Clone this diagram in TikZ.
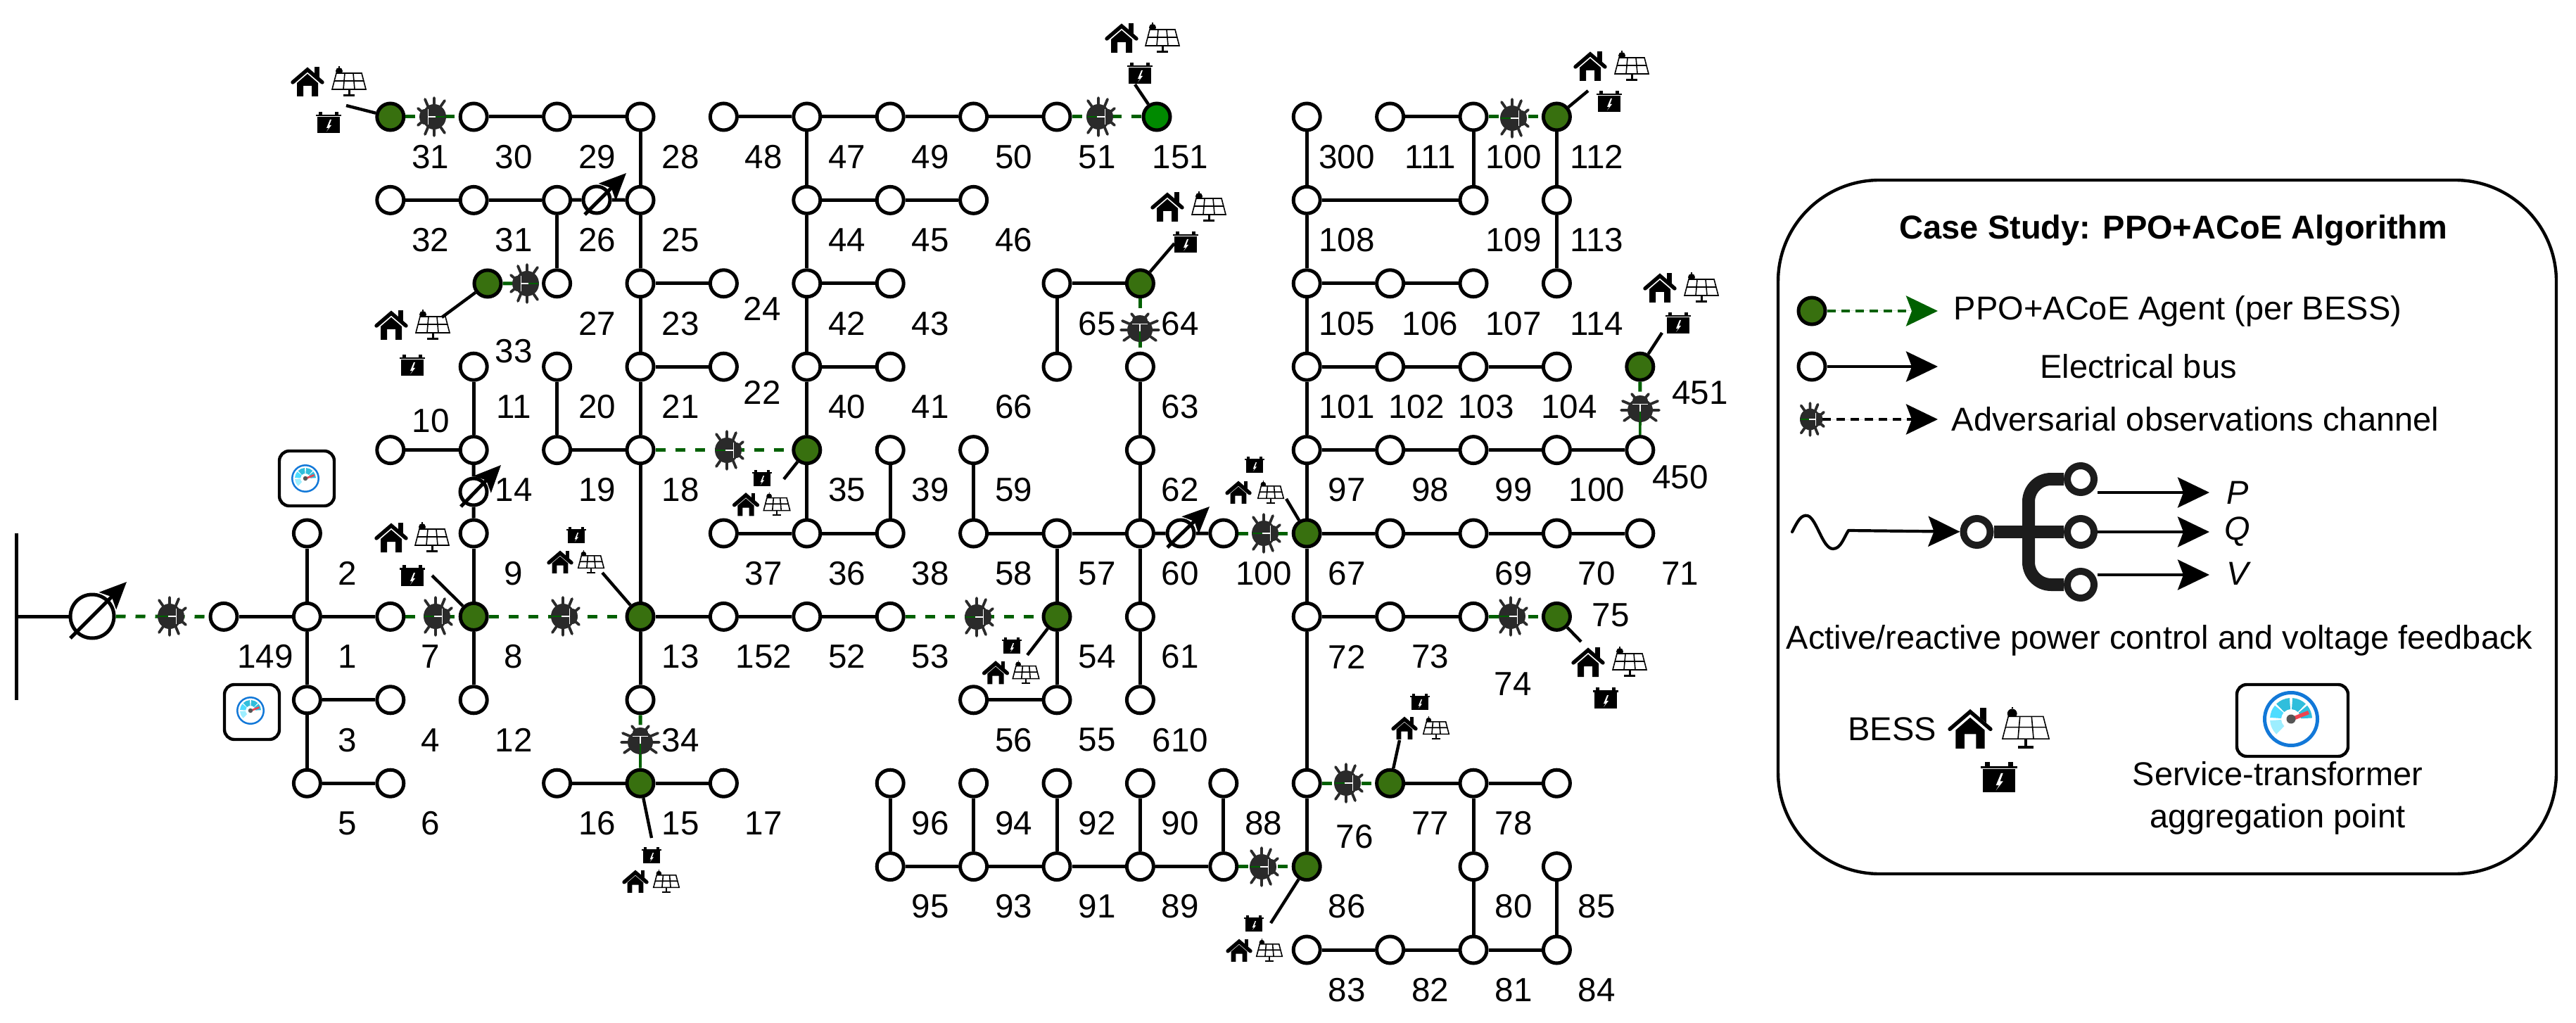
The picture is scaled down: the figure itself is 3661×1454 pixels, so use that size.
\documentclass[tikz,border=0pt]{standalone}
\usepackage{fontspec}
\setmainfont{Liberation Sans}
\usetikzlibrary{arrows.meta}
\definecolor{agentgreen}{HTML}{38700F}
\definecolor{brightgreen}{HTML}{008A00}
\definecolor{dashgreen}{HTML}{006000}
\definecolor{bugdark}{HTML}{2A2A2A}
\definecolor{ringdark}{HTML}{1C1C1C}
\tikzset{
  x=0.25pt,y=-0.25pt,
  every node/.append style={inner sep=0pt},
  bus/.style={circle,draw=black,fill=white,line width=1.25pt,minimum size=9.5pt},
  agent/.style={bus,fill=agentgreen},
  brightagent/.style={bus,fill=brightgreen},
  edge/.style={draw=black,line width=1.25pt},
  tie/.style={draw=black,line width=1.1pt},
  gdash/.style={draw=dashgreen,line width=1.25pt,dash pattern=on 3.5pt off 3.5pt},
  gsolid/.style={draw=dashgreen,line width=0.9pt},
  lab/.style={font=\fontsize{11.9}{13}\selectfont,text=black},
  legtxt/.style={font=\fontsize{11.75}{13}\selectfont,text=black,align=center},
  pst/.style={circle,draw=black,fill=white,line width=1.25pt,minimum size=#1},
  pstarrow/.style={draw=black,line width=1.25pt,-{Stealth[length=9.5pt,width=8.5pt,inset=2pt]}},
  legarrow/.style={line width=1.05pt,-{Stealth[length=11.25pt,width=10.75pt,inset=2pt]}},
  meterbox/.style={rectangle,draw=black,fill=white,line width=1.1pt,rounded corners=3.5pt},
  ring/.style={circle,draw=ringdark,fill=white,line width=2.5pt,minimum size=9.5pt},
  house/.pic={
    \fill[black] (10,-21) rectangle (17,-6);
    \fill[white] (-22,-1) -- (0,-19) -- (22,-1) -- (17,3) -- (-17,3) -- cycle;
    \fill[black] (-15,2) -- (0,-11) -- (15,2) -- (15,21) -- (6,21) -- (6,6) -- (-6,6) -- (-6,21) -- (-15,21) -- cycle;
    \draw[black,line width=1.35pt,line cap=round] (-21,1) -- (0,-17) -- (21,1);
  },
  panel/.pic={
    \fill[black] (-14,-15) circle[radius=5];
    \fill[black] (-14.6,-22) rectangle (-13.4,-20);
    \filldraw[fill=white,draw=black,line width=0.4pt] (-18,-12) -- (18,-12) -- (24,11) -- (-24,11) -- cycle;
    \draw[black,line width=0.4pt] (-6,-12) -- (-8,11) (6,-12) -- (8,11) (-21,-1) -- (21,-1);
    \fill[black] (-1.5,11) rectangle (1.5,19);
    \fill[black] (-8,18) rectangle (8,21);
  },
  battery/.pic={
    \fill[black] (-16,-9) rectangle (16,14);
    \fill[black] (-18,-12) rectangle (18,-9.5);
    \fill[black] (-14,-16) rectangle (-9,-12);
    \fill[black] (9,-16) rectangle (14,-12);
    \fill[white] (2,-5) -- (-3,7) -- (0,7) -- (-3,12) -- (4,3) -- (1,3) -- (4,-5) -- cycle;
  },
  bug/.pic={
    \draw[bugdark,line width=0.95pt,line cap=round]
      (-13,-5) -- (-25,-10) (-15,3) -- (-27,3) (-13,11) -- (-23,18)
      (13,-5) -- (25,-10) (15,3) -- (27,3) (13,11) -- (23,18)
      (-6,-13) -- (-12,-20) (6,-13) -- (12,-20);
    \fill[bugdark] (0,3) ellipse[x radius=18,y radius=17];
    \fill[bugdark] (0,-11) ellipse[x radius=11,y radius=7];
    \draw[white,line width=0.15pt] (-11,-6) -- (11,-6);
    \draw[white,line width=0.3pt] (0,-6) -- (0,5);
    \draw[dashgreen,line width=0.3pt] (0,5) -- (0,19);
  },
  gauge/.pic={
    \fill[white] (0,0) circle[radius=40];
    \fill[gaugeblue,even odd rule] (0,0) circle[radius=40] (0,0) circle[radius=35];
    \foreach \aa/\ab/\cl in {3/40/gaugeteal,46/86/gaugeteal,94/134/gaugeteal,140/176/gaugecyan,184/226/gaugepale}{
      \fill[\cl] (-\aa:30) arc[start angle=-\aa,end angle=-\ab,radius=30] -- (-\ab:14) arc[start angle=-\ab,end angle=-\aa,radius=14] -- cycle;
    }
    \fill[white] (0,0) circle[radius=12];
    \fill[gaugered] (0,-2.5) -- (24,-12) -- (26,-7) -- (1,3) -- cycle;
    \fill[gaugehub] (0,0) circle[radius=6.5];
  },
}
\definecolor{gaugeblue}{HTML}{1278D8}
\definecolor{gaugeteal}{HTML}{30BEDC}
\definecolor{gaugecyan}{HTML}{4EDCFF}
\definecolor{gaugepale}{HTML}{9DEEFF}
\definecolor{gaugered}{HTML}{EE4450}
\definecolor{gaugehub}{HTML}{555555}
\begin{document}
\begin{tikzpicture}
\useasboundingbox (0,0) rectangle (3661,1454);
\fill[white] (0,0) rectangle (3661,1454);

% --- buses on the grid ---
\foreach \c/\r in {
 3/0,4/0,5/0,6/0,7/0,8/0,9/0,10/0,13/0,14/0,15/0,
 2/1,3/1,4/1,5/1,7/1,8/1,9/1,13/1,15/1,16/1,
 4/2,5/2,6/2,7/2,8/2,10/2,13/2,14/2,15/2,16/2,
 3/3,4/3,5/3,6/3,7/3,8/3,10/3,11/3,13/3,14/3,15/3,16/3,
 2/4,3/4,4/4,5/4,8/4,9/4,11/4,13/4,14/4,15/4,16/4,17/4,
 1/5,3/5,6/5,7/5,8/5,9/5,10/5,11/5,12/5,14/5,15/5,16/5,17/5,
 0/6,1/6,2/6,6/6,7/6,8/6,11/6,13/6,14/6,15/6,
 1/7,2/7,3/7,5/7,9/7,10/7,11/7,
 1/8,2/8,4/8,6/8,8/8,9/8,10/8,11/8,12/8,13/8,15/8,16/8,
 8/9,9/9,10/9,11/9,12/9,15/9,16/9,
 13/10,14/10,15/10,16/10}
  \node[bus] (b\c r\r) at ({318+118.4*\c},{166+118.4*\r}) {};
% --- agents ---
\foreach \c/\r in {2/0,16/0,11/2,17/3,7/4,13/5,3/6,5/6,10/6,16/6,5/8,14/8,13/9}
  \node[agent] (b\c r\r) at ({318+118.4*\c},{166+118.4*\r}) {};
\node[agent] (agA) at (693,403) {};
\node[brightagent] (ag151) at (1644,166) {};

% --- phase-shifting transformers ---
\node[pst=15.5pt] (pstA) at (131,876) {};
\node[pst=9.5pt] (pstB) at (848,284) {};
\node[pst=9.5pt] (pstC) at (673,699) {};
\node[pst=9.5pt] (pstD) at (1678,758) {};

% --- solid edges, horizontal: first column/second column/row ---
\foreach \a/\b/\r in {
 3/4/0,4/5/0,6/7/0,7/8/0,8/9/0,9/10/0,14/15/0,
 2/3/1,3/4/1,7/8/1,8/9/1,13/15/1,
 5/6/2,7/8/2,10/11/2,13/14/2,14/15/2,
 5/6/3,7/8/3,13/14/3,14/15/3,15/16/3,
 2/3/4,4/5/4,13/14/4,14/15/4,15/16/4,16/17/4,
 6/7/5,7/8/5,9/10/5,10/11/5,13/14/5,14/15/5,15/16/5,16/17/5,
 0/1/6,1/2/6,5/6/6,6/7/6,7/8/6,13/14/6,14/15/6,
 1/2/7,9/10/7,
 1/2/8,4/5/8,5/6/8,14/15/8,15/16/8,
 8/9/9,9/10/9,10/11/9,11/12/9,
 13/14/10,14/15/10,15/16/10}
  \draw[edge] (b\a r\r) -- (b\b r\r);
% --- solid edges, vertical: column/first row/second row ---
\foreach \c/\a/\b in {
 1/5/6,1/6/7,1/7/8,
 3/3/4,3/5/6,3/6/7,
 4/1/2,4/3/4,
 5/0/1,5/1/2,5/2/3,5/3/4,5/4/6,5/6/7,
 7/0/1,7/1/2,7/2/3,7/3/4,7/4/5,
 8/4/5,9/4/5,
 10/2/3,10/5/6,10/6/7,
 11/3/4,11/4/5,11/5/6,11/6/7,
 13/0/1,13/1/2,13/2/3,13/3/4,13/4/5,13/5/6,13/6/8,13/8/9,
 15/0/1,15/8/9,15/9/10,
 16/0/1,16/1/2,16/9/10,
 8/8/9,9/8/9,10/8/9,11/8/9,12/8/9}
  \draw[edge] (b\c r\a) -- (b\c r\b);

% --- transformer links and source bar ---
\coordinate (barT) at (23,758);
\coordinate (barM) at (23,876);
\coordinate (barB) at (23,995);
\draw[edge] (barT) -- (barB);
\draw[edge] (barM) -- (pstA);
\draw[edge] (b4r1) -- (pstB);
\draw[edge] (pstB) -- (b5r1);
\draw[edge] (b3r4) -- (pstC);
\draw[edge] (pstC) -- (b3r5);
\draw[edge] (b11r5) -- (pstD);
\draw[edge] (pstD) -- (b12r5);
\coordinate (pstAs) at (100,907); \coordinate (pstAe) at (180,827);
\coordinate (pstBs) at (831,305); \coordinate (pstBe) at (890,246);
\coordinate (pstCs) at (655,720); \coordinate (pstCe) at (712,661);
\coordinate (pstDs) at (1659,778); \coordinate (pstDe) at (1719,720);
\draw[pstarrow] (pstAs) -- (pstAe);
\draw[pstarrow] (pstBs) -- (pstBe);
\draw[pstarrow] (pstCs) -- (pstCe);
\draw[pstarrow] (pstDs) -- (pstDe);

% --- adversarial channels ---
\draw[gdash] (pstA) -- (b0r6);
\draw[gdash] (b2r6) -- (b3r6);
\draw[gdash] (b3r6) -- (b5r6);
\draw[gdash] (b8r6) -- (b10r6);
\draw[gdash] (b5r4) -- (b7r4);
\draw[gdash] (b2r0) -- (b3r0);
\draw[gdash] (agA) -- (b4r2);
\draw[gdash] (b10r0) -- (ag151);
\draw[gdash] (b15r0) -- (b16r0);
\draw[gdash] (b12r5) -- (b13r5);
\draw[gdash] (b15r6) -- (b16r6);
\draw[gdash] (b13r8) -- (b14r8);
\draw[gdash] (b12r9) -- (b13r9);
\draw[gdash] (b11r2) -- (b11r3);
\coordinate (bugP) at (910,1052);
\coordinate (bugQ) at (2331,580);
\draw[gdash] (b5r7) -- (bugP);
\draw[gsolid] (bugP) -- (b5r8);
\draw[gdash] (b17r3) -- (bugQ);
\draw[gsolid] (bugQ) -- (b17r4);
\foreach \x/\y/\a in {
 614/166/90,746/403/90,1036/640/-90,244/876/-90,622/876/-90,803/876/-90,1391/877/-90,
 1564/166/-90,2152/168/-90,1799/758/-90,2150/876/-90,1916/1113/-90,1796/1232/-90,
 1620/466/0,910/1052/0,2331/580/0}
  \pic[rotate=\a] at (\x,\y) {bug};

% --- BESS groups: house x/y, panel x/y, battery x/y, icon scale ---
\foreach \hx/\hy/\px/\py/\bx/\by/\s in {
 437/116/496/116/467/175/1,
 556/462/615/462/586/520/1,
 556/764/614/764/586/819/1,
 796/799/840/799/819/761/.76,
 903/1253/947/1253/926/1216/.76,
 1060/717/1104/717/1083/680/.78,
 1415/956/1458/956/1438/918/.78,
 1594/54/1652/54/1620/105/1,
 1659/294/1718/294/1685/345/1,
 2260/94/2319/94/2287/145/1,
 2359/409/2418/409/2385/460/1,
 1760/700/1806/700/1783/661/.76,
 2257/941/2316/941/2282/993/1,
 1996/1035/2041/1035/2018/998/.76,
 1761/1351/1804/1351/1782/1313/.76}{
  \pic[scale=\s] at (\hx,\hy) {house};
  \pic[scale=\s] at (\px,\py) {panel};
  \pic[scale=\s] at (\bx,\by) {battery};
}
% --- links from agents to their BESS groups ---
\coordinate (gA) at (492,150);   \draw[tie] (b2r0) -- (gA);
\coordinate (gB) at (628,451);   \draw[tie] (agA) -- (gB);
\coordinate (gC) at (614,818);   \draw[tie] (b3r6) -- (gC);
\coordinate (gD) at (856,814);   \draw[tie] (b5r6) -- (gD);
\coordinate (gE) at (926,1191);  \draw[tie] (b5r8) -- (gE);
\coordinate (gF) at (1114,681);  \draw[tie] (b7r4) -- (gF);
\coordinate (gG) at (1460,931);  \draw[tie] (b10r6) -- (gG);
\coordinate (gH) at (1613,120);  \draw[tie] (ag151) -- (gH);
\coordinate (gI) at (1669,346);  \draw[tie] (b11r2) -- (gI);
\coordinate (gJ) at (2257,129);  \draw[tie] (b16r0) -- (gJ);
\coordinate (gK) at (2362,473);  \draw[tie] (b17r3) -- (gK);
\coordinate (gL) at (1828,709);  \draw[tie] (b13r5) -- (gL);
\coordinate (gM) at (2247,912);  \draw[tie] (b16r6) -- (gM);
\coordinate (gN) at (1989,1052); \draw[tie] (b14r8) -- (gN);
\coordinate (gO) at (1806,1312); \draw[tie] (b13r9) -- (gO);

% --- service-transformer meters ---
\node[meterbox,minimum width=19.5pt,minimum height=19.5pt] (meterA) at (436,680) {};
\node[meterbox,minimum width=19.5pt,minimum height=19.5pt] (meterB) at (358,1012) {};
\pic[scale=.5] at (434,680) {gauge};
\pic[scale=.5] at (356,1010) {gauge};

% --- bus numbers on the grid ---
\foreach \c/\r/\t in {
 2/0/31,3/0/30,4/0/29,5/0/28,6/0/48,7/0/47,8/0/49,9/0/50,10/0/51,11/0/151,13/0/300,14/0/111,15/0/100,16/0/112,
 2/1/32,3/1/31,4/1/26,5/1/25,7/1/44,8/1/45,9/1/46,13/1/108,15/1/109,16/1/113,
 4/2/27,5/2/23,7/2/42,8/2/43,10/2/65,11/2/64,13/2/105,14/2/106,15/2/107,16/2/114,
 3/3/11,4/3/20,5/3/21,7/3/40,8/3/41,9/3/66,11/3/63,13/3/101,
 3/4/14,4/4/19,5/4/18,7/4/35,8/4/39,9/4/59,11/4/62,13/4/97,14/4/98,15/4/99,16/4/100,
 1/5/2,3/5/9,6/5/37,7/5/36,8/5/38,9/5/58,10/5/57,11/5/60,12/5/100,13/5/67,15/5/69,16/5/70,17/5/71,
 1/6/1,2/6/7,3/6/8,5/6/13,6/6/152,7/6/52,8/6/53,10/6/54,11/6/61,13/6/72,14/6/73,
 1/7/3,2/7/4,3/7/12,5/7/34,9/7/56,10/7/55,11/7/610,
 1/8/5,2/8/6,4/8/16,5/8/15,6/8/17,8/8/96,9/8/94,10/8/92,11/8/90,12/8/88,14/8/77,15/8/78,
 8/9/95,9/9/93,10/9/91,11/9/89,13/9/86,15/9/80,16/9/85,
 13/10/83,14/10/82,15/10/81,16/10/84}
  \node[lab] (l\c r\r) at ({318+118.4*\c+57},{166+118.4*\r+57}) {\t};
% --- bus numbers off the grid ---
\foreach \x/\y/\t in {
 730/499/33,1083/439/24,1083/558/22,612/598/10,2416/558/451,2388/678/450,
 2289/874/75,2150/972/74,1925/1189/76,2013/578/102,2112/578/103,2230/578/104,377/933/149}
  \node[lab] (lx\t) at (\x,\y) {\t};

% --- legend ---
\node[rectangle,draw=black,line width=1.1pt,rounded corners=36pt,minimum width=276.5pt,minimum height=246.5pt] (legend) at (3080,749) {};
\node[legtxt,font=\fontsize{11.75}{13}\selectfont\bfseries] (legtitle) at (3089,327) {Case Study: PPO+ACoE Algorithm};
\node[agent] (legA) at (2575,442) {};
\coordinate (legAe) at (2754,442);
\draw[legarrow,draw=dashgreen,fill=dashgreen,dash pattern=on 3pt off 2pt] (legA) -- (legAe);
\node[legtxt] (legAt) at (3095,442) {PPO+ACoE Agent (per BESS)};
\node[bus] (legB) at (2575,521) {};
\coordinate (legBe) at (2754,521);
\draw[legarrow,draw=black,fill=black] (legB) -- (legBe);
\node[legtxt] (legBt) at (3039,521) {Electrical bus};
\coordinate (legC) at (2590,596);
\coordinate (legCe) at (2754,596);
\draw[legarrow,draw=black,fill=black,dash pattern=on 3pt off 2pt] (legC) -- (legCe);
\pic[rotate=-90,scale=.85] at (2575,596) {bug};
\node[legtxt] (legCt) at (3120,596) {Adversarial observations channel};
% wave into the branching block
\coordinate (waveS) at (2547,756);
\coordinate (waveE) at (2627,754);
\draw[line width=1.05pt,line cap=round] (waveS) .. controls (2555,740) and (2560,731) .. (2569,733) .. controls (2582,737) and (2590,780) .. (2605,780) .. controls (2616,780) and (2620,765) .. (waveE);
\node[ring] (ringI) at (2809.5,756) {};
\node[ring] (ringP) at (2957,681) {};
\node[ring] (ringQ) at (2957,756) {};
\node[ring] (ringV) at (2957,831) {};
\coordinate (branch) at (2883,756);
\draw[draw=ringdark,line width=4.5pt] (ringI) -- (ringQ);
\draw[draw=ringdark,line width=4.5pt,rounded corners=8pt] (branch) |- (ringP);
\draw[draw=ringdark,line width=4.5pt,rounded corners=8pt] (branch) |- (ringV);
\draw[legarrow,draw=black,fill=black] (waveE) -- (ringI);
\coordinate (arrPs) at (2981,700); \coordinate (arrPe) at (3140,700);
\coordinate (arrQs) at (2981,756); \coordinate (arrQe) at (3140,756);
\coordinate (arrVs) at (2981,817); \coordinate (arrVe) at (3140,817);
\draw[legarrow,draw=black,fill=black] (arrPs) -- (arrPe);
\draw[legarrow,draw=black,fill=black] (arrQs) -- (arrQe);
\draw[legarrow,draw=black,fill=black] (arrVs) -- (arrVe);
\node[legtxt,font=\fontsize{11.75}{13}\selectfont\itshape] (labP) at (3180,700) {P};
\node[legtxt,font=\fontsize{11.75}{13}\selectfont\itshape] (labQ) at (3180,756) {Q};
\node[legtxt,font=\fontsize{11.75}{13}\selectfont\itshape] (labV) at (3180,815) {V};
\node[legtxt] (legcap) at (3069,910) {Active/reactive power control and voltage feedback};
\node[legtxt] (legbess) at (2689,1036) {BESS};
\pic[scale=1.38] at (2800,1035) {house};
\pic[scale=1.38] at (2879,1035) {panel};
\pic[scale=1.45] at (2841,1106) {battery};
\node[meterbox,minimum width=39.5pt,minimum height=25.5pt] (legmeter) at (3258,1024) {};
\pic at (3256,1022) {gauge};
\node[legtxt] (legst) at (3237,1134) {Service-transformer\\[2pt]aggregation point};
\end{tikzpicture}
\end{document}
